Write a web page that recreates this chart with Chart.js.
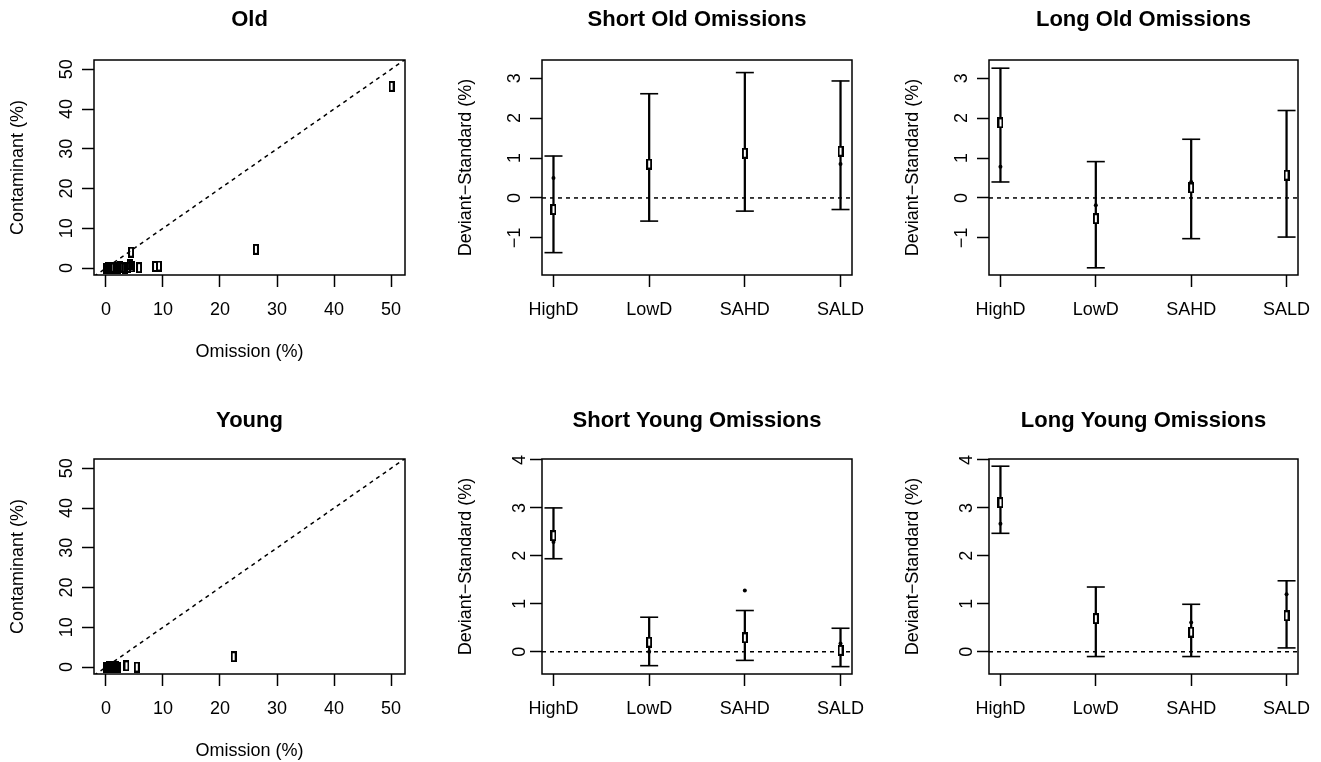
<!DOCTYPE html>
<html>
<head>
<meta charset="utf-8">
<script src="https://cdn.jsdelivr.net/npm/chart.js@4.4.1/dist/chart.umd.min.js"></script>
<style>
    html, body { margin: 0; padding: 0; background: #fff; width: 1321px; height: 762px; overflow: hidden; }
    canvas { position: absolute; }
</style>
</head>
<body>
<canvas id="old"></canvas>
<canvas id="short-old"></canvas>
<canvas id="long-old"></canvas>
<canvas id="young"></canvas>
<canvas id="short-young"></canvas>
<canvas id="long-young"></canvas>
<script>
const groups = ['HighD', 'LowD', 'SAHD', 'SALD'];

const shortOldMean = [-0.29, 0.85, 1.12, 1.17];
const shortOldMedian = [0.5, 0.85, 1.12, 0.85];
const shortOldLower = [-1.37, -0.58, -0.33, -0.29];
const shortOldUpper = [1.05, 2.61, 3.14, 2.93];

const longOldMean = [1.88, -0.52, 0.25, 0.57];
const longOldMedian = [0.78, -0.18, 0.4, 0.55];
const longOldLower = [0.4, -1.75, -1.02, -0.98];
const longOldUpper = [3.25, 0.91, 1.47, 2.19];

const shortYoungMean = [2.42, 0.2, 0.29, 0.03];
const shortYoungMedian = [2.29, 0.0, 1.28, 0.17];
const shortYoungLower = [1.94, -0.29, -0.18, -0.31];
const shortYoungUpper = [3.0, 0.72, 0.86, 0.49];

const longYoungMean = [3.11, 0.69, 0.41, 0.75];
const longYoungMedian = [2.67, 0.7, 0.61, 1.2];
const longYoungLower = [2.47, -0.1, -0.1, 0.08];
const longYoungUpper = [3.87, 1.35, 0.99, 1.48];

const oldOmission = [0.0, 0.3, 0.6, 1.0, 1.3, 1.7, 2.1, 2.5, 2.9, 3.3, 3.8, 4.2, 4.5, 5.8, 4.4, 8.6, 9.3, 26.3, 50.1];
const oldContaminant = [0.0, 0.1, 0.0, 0.2, 0.0, 0.1, 0.0, 0.3, 0.1, 0.0, 0.2, 0.9, 0.3, 0.1, 4.0, 0.4, 0.5, 4.7, 45.7];

const youngOmission = [0.0, 0.3, 0.6, 0.9, 1.2, 1.5, 1.8, 2.1, 3.6, 5.4, 22.4];
const youngContaminant = [0.0, 0.0, 0.1, 0.0, 0.2, 0.0, 0.1, 0.0, 0.3, 0.0, 2.6];

const pctTicks = [0, 10, 20, 30, 40, 50];
const oldDevTicks = [-1, 0, 1, 2, 3];
const youngDevTicks = [0, 1, 2, 3, 4];

// layout (px)
const yW = 90, xH = 88, TOP = 60, padR = 30;

Chart.defaults.font.family = "'Liberation Sans', Arial, sans-serif";
Chart.defaults.font.size = 18;
Chart.defaults.color = '#000';

const makeBox = (fill) => {
    const c = document.createElement('canvas');
    c.width = 6; c.height = 11;
    const g = c.getContext('2d');
    g.fillStyle = '#000';
    g.fillRect(0, 0, 6, 11);
    if (fill) { g.fillStyle = fill; g.fillRect(2, 2, 2, 7); }
    else g.clearRect(2, 2, 2, 7);
    return c;
};
const hollowBox = makeBox(null);
const whiteBox = makeBox('#fff');

const boxPlugin = {
    id: 'box',
    afterDatasetsDraw(chart) {
        const { ctx, chartArea: a } = chart;
        ctx.save();
        ctx.strokeStyle = '#000';
        ctx.lineWidth = 1.5;
        ctx.strokeRect(a.left, a.top, a.right - a.left, a.bottom - a.top);
        ctx.restore();
    }
};

const gridOpts = {
    display: true, drawOnChartArea: false, drawTicks: true, offset: false,
    tickLength: 12, tickWidth: 1.5, tickColor: '#000', color: '#000'
};
const minus = v => (v < 0 ? '\u2212' + Math.abs(v) : String(v));

function place(id, box, titleY) {
    const [l, t, r, b] = box;
    const cv = document.getElementById(id);
    cv.width = yW + (r - l) + padR;
    cv.height = TOP + (b - t) + xH;
    cv.style.left = (l - yW) + 'px';
    cv.style.top = (t - TOP) + 'px';
    const pt = titleY - (t - TOP) - 13.2;
    return { cv, titlePad: { top: pt, bottom: TOP - 26.4 - pt } };
}

function baseOptions(title, titlePad, xScale, yScale) {
    return {
        responsive: false,
        animation: false,
        layout: { padding: { left: 0, right: padR, top: 0, bottom: 0 } },
        plugins: {
            legend: { display: false },
            tooltip: { enabled: false },
            title: {
                display: true, text: title, fullSize: false, color: '#000',
                font: { size: 22, weight: 'bold' }, padding: titlePad
            }
        },
        scales: { x: xScale, y: yScale }
    };
}

function yAxis(min, max, ticks, label) {
    return {
        type: 'linear', min, max, offset: false,
        afterBuildTicks: s => { s.ticks = ticks.map(v => ({ value: v })); },
        afterFit: s => { s.width = yW; },
        ticks: { autoSkip: false, minRotation: 90, maxRotation: 90, crossAlign: 'center', padding: 5, callback: v => minus(v) },
        grid: gridOpts,
        border: { display: false },
        title: { display: true, text: label, padding: { top: 3, bottom: 0 } }
    };
}

function devChart(id, box, titleY, title, mean, median, lower, upper, yMin, yMax, yTicks) {
    const { cv, titlePad } = place(id, box, titleY);
    const xMin = 0.88, xMax = 4.12;
    const xScale = {
        type: 'linear', min: xMin, max: xMax, offset: false,
        afterBuildTicks: s => { s.ticks = groups.map((g, i) => ({ value: i + 1 })); },
        afterFit: s => { s.height = xH; },
        ticks: { autoSkip: false, maxRotation: 0, padding: 12, callback: v => groups[v - 1] },
        grid: gridOpts,
        border: { display: false }
    };
    new Chart(cv, {
        type: 'scatter',
        data: {
            datasets: [
                {
                    type: 'scatter', data: mean.map((v, i) => ({ x: i + 1, y: v })),
                    pointStyle: whiteBox, pointRadius: 6
                },
                {
                    type: 'scatter', data: median.map((v, i) => ({ x: i + 1, y: v })),
                    pointStyle: 'circle', pointRadius: 2, backgroundColor: '#000', borderWidth: 0
                },
                {
                    type: 'scatter',
                    data: upper.map((v, i) => ({ x: i + 1, y: v })).concat(lower.map((v, i) => ({ x: i + 1, y: v }))),
                    pointStyle: 'line', pointRadius: 9, borderColor: '#000', borderWidth: 1.6
                },
                {
                    type: 'bar', data: lower.map((v, i) => ({ x: i + 1, y: [v, upper[i]] })),
                    backgroundColor: '#000', borderWidth: 0, barThickness: 1.6
                },
                {
                    type: 'line', data: [{ x: xMin, y: 0 }, { x: xMax, y: 0 }], showLine: true,
                    borderColor: '#000', borderWidth: 1.5, borderDash: [4, 4], pointRadius: 0
                }
            ]
        },
        options: baseOptions(title, titlePad, xScale, yAxis(yMin, yMax, yTicks, 'Deviant\u2212Standard (%)')),
        plugins: [boxPlugin]
    });
}

function scatterChart(id, box, titleY, title, xs, ys) {
    const { cv, titlePad } = place(id, box, titleY);
    const xMin = -2.1, xMax = 52.45;
    const xScale = {
        type: 'linear', min: xMin, max: xMax, offset: false,
        afterBuildTicks: s => { s.ticks = pctTicks.map(v => ({ value: v })); },
        afterFit: s => { s.height = xH; },
        ticks: { autoSkip: false, maxRotation: 0, padding: 12 },
        grid: gridOpts,
        border: { display: false },
        title: { display: true, text: 'Omission (%)', padding: { top: 0, bottom: 0 } }
    };
    new Chart(cv, {
        type: 'scatter',
        data: {
            datasets: [
                {
                    type: 'scatter', data: xs.map((v, i) => ({ x: v, y: ys[i] })),
                    pointStyle: hollowBox, pointRadius: 6
                },
                {
                    type: 'line', data: [{ x: xMin, y: xMin }, { x: xMax, y: xMax }], showLine: true,
                    borderColor: '#000', borderWidth: 1.5, borderDash: [4, 4], pointRadius: 0
                }
            ]
        },
        options: baseOptions(title, titlePad, xScale, yAxis(-1.75, 52.35, pctTicks, 'Contaminant (%)')),
        plugins: [boxPlugin]
    });
}

scatterChart('old', [94, 60, 405, 275], 20, 'Old', oldOmission, oldContaminant);
devChart('short-old', [542, 60, 852, 275], 20, 'Short Old Omissions',
    shortOldMean, shortOldMedian, shortOldLower, shortOldUpper, -1.93, 3.455, oldDevTicks);
devChart('long-old', [989, 60, 1298, 275], 20, 'Long Old Omissions',
    longOldMean, longOldMedian, longOldLower, longOldUpper, -1.93, 3.455, oldDevTicks);

scatterChart('young', [94, 459, 405, 674], 421, 'Young', youngOmission, youngContaminant);
devChart('short-young', [542, 459, 852, 674], 421, 'Short Young Omissions',
    shortYoungMean, shortYoungMedian, shortYoungLower, shortYoungUpper, -0.464, 4.02, youngDevTicks);
devChart('long-young', [989, 459, 1298, 674], 421, 'Long Young Omissions',
    longYoungMean, longYoungMedian, longYoungLower, longYoungUpper, -0.464, 4.02, youngDevTicks);
</script>
</body>
</html>
